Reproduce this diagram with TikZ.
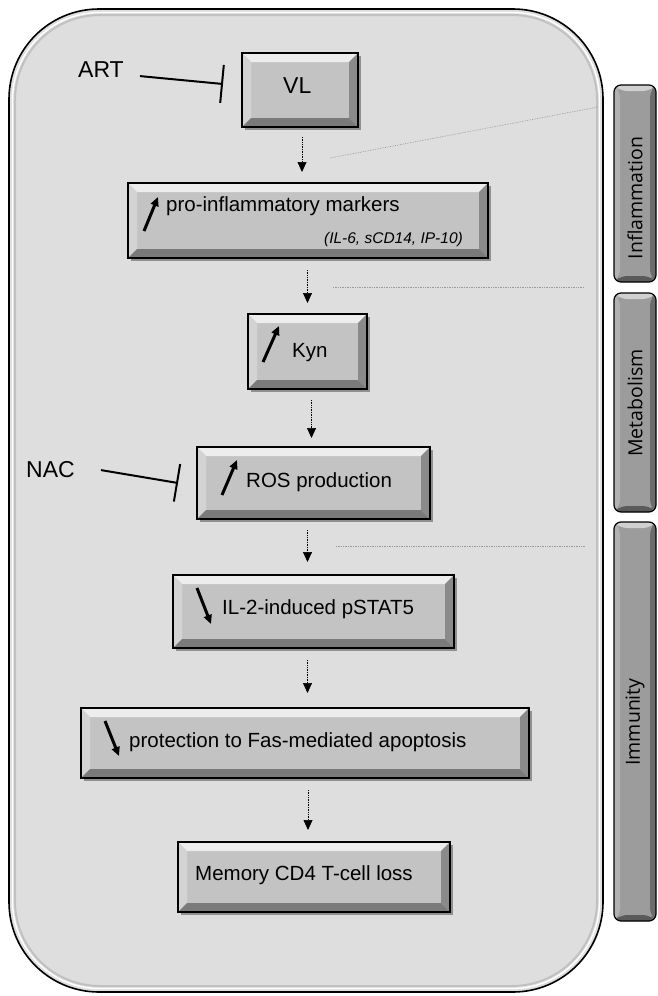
\documentclass[tikz,border=0pt]{standalone}
\usepackage{fontspec}
\setmainfont{Liberation Sans}
\newfontfamily\tabfont{Open Sans}
\usetikzlibrary{arrows.meta,shadows}
\definecolor{outerfill}{HTML}{DEDEDE}
\definecolor{boxface}{HTML}{C3C3C3}
\definecolor{boxtop}{HTML}{EDEDED}
\definecolor{boxleft}{HTML}{D3D3D3}
\definecolor{boxright}{HTML}{8A8A8A}
\definecolor{boxbot}{HTML}{7A7A7A}
\definecolor{tabface}{HTML}{9C9C9C}
\definecolor{tabtop}{HTML}{D0D0D0}
\definecolor{tableft}{HTML}{B2B2B2}
\definecolor{tabright}{HTML}{6C6C6C}
\definecolor{tabbot}{HTML}{5A5A5A}
\definecolor{sepline}{HTML}{9A9A9A}
\newcommand\bevbox[6]{%
  \node[#1, minimum width={(#5-#3)*1pt}, minimum height={(#6-#4)*1pt}] (#2) at ({(#3+#5)/2},{(#4+#6)/2}) {};}
\begin{document}
\begin{tikzpicture}[x=1pt,y=-1pt,
  bevel/.style n args={5}{path picture={
    \fill[#2] (path picture bounding box.north west) -- (path picture bounding box.north east)
      -- ([shift={(-#1,-#1)}]path picture bounding box.north east) -- ([shift={(#1,-#1)}]path picture bounding box.north west) -- cycle;
    \fill[#3] (path picture bounding box.north west) -- (path picture bounding box.south west)
      -- ([shift={(#1,#1)}]path picture bounding box.south west) -- ([shift={(#1,-#1)}]path picture bounding box.north west) -- cycle;
    \fill[#4] (path picture bounding box.north east) -- (path picture bounding box.south east)
      -- ([shift={(-#1,#1)}]path picture bounding box.south east) -- ([shift={(-#1,-#1)}]path picture bounding box.north east) -- cycle;
    \fill[#5] (path picture bounding box.south west) -- (path picture bounding box.south east)
      -- ([shift={(-#1,#1)}]path picture bounding box.south east) -- ([shift={(#1,#1)}]path picture bounding box.south west) -- cycle;
  }},
  stepbox/.style={draw=black, line width=1.5pt, fill=boxface, inner sep=0pt, outer sep=0pt,
    bevel={9pt}{boxtop}{boxleft}{boxright}{boxbot},
    drop shadow={shadow xshift=3pt, shadow yshift=-3pt, fill=black, opacity=.35}},
  tabbox/.style={draw=black, line width=1.2pt, fill=tabface, rounded corners=7pt, inner sep=0pt, outer sep=0pt,
    bevel={6pt}{tabtop}{tableft}{tabright}{tabbot}},
  txt/.style={inner sep=0pt, font=\fontsize{20.5}{24}\selectfont},
  drug/.style={inner sep=0pt, font=\fontsize{23}{27}\selectfont},
  tabtxt/.style={inner sep=0pt, font=\tabfont\fontsize{19.5}{23}\selectfont, rotate=90},
  flow/.style={densely dotted, line width=0.7pt, -{Triangle[width=9pt,length=10pt]}},
  inhib/.style={line width=2pt, -{Bar[width=38pt]}},
  updown/.style={line width=3pt, -{Triangle[width=8pt,length=9pt]}},
  sep/.style={sepline, densely dotted, line width=0.7pt}
]
\useasboundingbox (0,0) rectangle (657,996);
% outer panel
\path[fill=outerfill, draw=black, line width=1.6pt, rounded corners=90pt] (9,9) rectangle (603,992);
\path[draw=white, line width=1.4pt, rounded corners=87pt] (12.5,12.5) rectangle (599.5,988.5);
\path[draw=gray, line width=2pt, opacity=.3, rounded corners=85pt] (15,15) rectangle (597,986);
% side tabs
\bevbox{tabbox}{tinfl}{614}{85}{656}{282}
\bevbox{tabbox}{tmeta}{614}{293}{656}{512}
\bevbox{tabbox}{timmu}{614}{522}{656}{921}
\node[tabtxt] (linfl) at (635,198) {Inflammation};
\node[tabtxt] (lmeta) at (635,403) {Metabolism};
\node[tabtxt] (limmu) at (635,722) {Immunity};
% separator lines
\draw[sep] (330,158) -- (598,107);
\draw[sep] (333,287) -- (583,287);
\draw[sep] (336,546) -- (585,546);
% boxes
\bevbox{stepbox}{vl}{242}{53}{358}{127}
\bevbox{stepbox}{pro}{128}{183}{488}{258}
\bevbox{stepbox}{kyn}{248}{314}{367}{389}
\bevbox{stepbox}{ros}{197}{447}{430}{519}
\bevbox{stepbox}{il2}{173}{575}{454}{648}
\bevbox{stepbox}{prot}{81}{708}{529}{778}
\bevbox{stepbox}{mem}{178}{842}{450}{912}
% texts
\node[drug, anchor=base west] (art) at (78,77) {ART};
\node[drug, anchor=base west] (nac) at (26,477) {NAC};
\node[drug, anchor=base west] (vltxt) at (283,93) {VL};
\node[txt, anchor=base west] (protxt) at (166,211) {pro-inflammatory markers};
\node[inner sep=0pt, font=\fontsize{15.5}{18}\selectfont\itshape, anchor=base east] (proex) at (463,243) {(IL-6, sCD14, IP-10)};
\node[txt, anchor=base west] (kyntxt) at (292,357) {Kyn};
\node[txt, anchor=base west] (rostxt) at (246,487) {ROS production};
\node[txt, anchor=base west] (il2txt) at (222,614) {IL-2-induced pSTAT5};
\node[txt, anchor=base west] (prottxt) at (129,747) {protection to Fas-mediated apoptosis};
\node[txt, anchor=base west] (memtxt) at (195,880) {Memory CD4 T-cell loss};
% up / down marks
\draw[updown] (144,231) -- (158,197);
\draw[updown] (263,362) -- (279,326);
\draw[updown] (222,495) -- (237,460);
\draw[updown] (197,588) -- (211,624);
\draw[updown] (105,721) -- (119,756);
% inhibitions
\draw[inhib] ([shift={(16pt,-7pt)}]art.east) -- ([shift={(-19pt,6pt)}]vl.west);
\draw[inhib] ([shift={(26pt,-1pt)}]nac.east) -- ([shift={(-19pt,0pt)}]ros.west);
% flow arrows
\draw[flow, shorten <=10pt, shorten >=11pt] ([xshift=2pt]vl.south) -- ([xshift=2pt]vl.south |- pro.north);
\draw[flow, shorten <=12pt, shorten >=11pt] (kyn.north |- pro.south) -- (kyn.north);
\draw[flow, shorten <=11pt, shorten >=9pt] ([xshift=4pt]kyn.south) -- ([xshift=4pt]kyn.south |- ros.north);
\draw[flow, shorten <=11pt, shorten >=13pt] ([xshift=-6pt]ros.south) -- ([xshift=-6pt]ros.south |- il2.north);
\draw[flow, shorten <=12pt, shorten >=15pt] ([xshift=-6pt]il2.south) -- ([xshift=-6pt]il2.south |- prot.north);
\draw[flow, shorten <=12pt, shorten >=12pt] ([xshift=3pt]prot.south) -- ([xshift=3pt]prot.south |- mem.north);
\end{tikzpicture}
\end{document}
